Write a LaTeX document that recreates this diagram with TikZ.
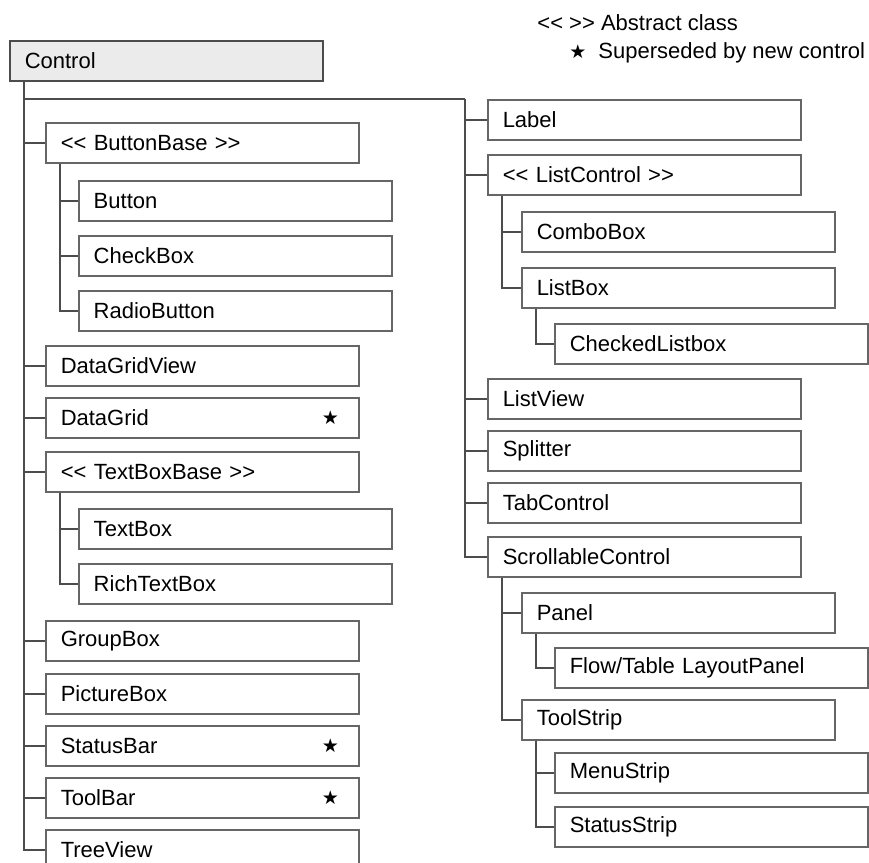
\documentclass[tikz,border=0pt]{standalone}
\usepackage{fontspec}
\setmainfont{Liberation Sans}
\newfontfamily\symfont{DejaVu Sans}
\usetikzlibrary{positioning}

% double angle brackets without the TeX guillemet ligature
\newcommand{\abscls}[1]{<\kern0pt<\ #1\ >\kern0pt>}
\newcommand{\oldmark}{{\symfont\fontsize{9.5}{9.5}\selectfont ★}}

\begin{document}
\begin{tikzpicture}[
    x=0.5pt, y=-0.5pt,
    class node/.style={
        draw=black!60, fill=white, rectangle, anchor=north west,
        minimum width=156.5pt, minimum height=20pt, text width=141.5pt,
        inner xsep=7.5pt, inner ysep=0pt, align=left,
        font=\fontsize{11}{13}\selectfont, line width=0.75pt
    },
    root node/.style={class node, fill=black!8, draw=black!70},
    superseded/.style={label={[anchor=center, xshift=-14.5pt, inner sep=0pt]east:\oldmark}},
    link/.style={draw=black!70, line width=0.8pt},
    legend/.style={anchor=base west, inner sep=0pt, font=\fontsize{11}{13}\selectfont}
]

% Marco de la imagen
\useasboundingbox (0,0) rectangle (869,863);
\clip (0,0) rectangle (869,863);

% Distancia del tronco al borde izquierdo del padre
\def\drop{15}

% ------------------------------------------------------------------------------
% 1. LEYENDA
% ------------------------------------------------------------------------------
\node[legend] (abstract) at (537,30) {<\kern0pt< >\kern0pt> Abstract class};
\node[legend] (newctrl) at (569,58) {\oldmark\hspace{6pt}Superseded by new control};

% ------------------------------------------------------------------------------
% 2. CLASES (columna izquierda)
% ------------------------------------------------------------------------------
\node[root node] (control) at (9,40) {Control};

\node[class node] (buttonbase)   at (45,122) {\abscls{ButtonBase}};
\node[class node] (button)       at (78,180) {Button};
\node[class node] (checkbox)     at (78,235) {CheckBox};
\node[class node] (radiobutton)  at (78,290) {RadioButton};
\node[class node] (datagridview) at (45,345) {DataGridView};
\node[class node, superseded] (datagrid) at (45,397) {DataGrid};
\node[class node] (textboxbase)  at (45,451) {\abscls{TextBoxBase}};
\node[class node] (textbox)      at (78,508) {TextBox};
\node[class node] (richtextbox)  at (78,563) {RichTextBox};
\node[class node] (groupbox)     at (45,620) {GroupBox};
\node[class node] (picturebox)   at (45,673) {PictureBox};
\node[class node, superseded] (statusbar) at (45,725) {StatusBar};
\node[class node, superseded] (toolbar)   at (45,777) {ToolBar};
\node[class node] (treeview)     at (45,829) {TreeView};

% ------------------------------------------------------------------------------
% 3. CLASES (columna derecha)
% ------------------------------------------------------------------------------
\node[class node] (label)          at (487,99)  {Label};
\node[class node] (listcontrol)    at (487,154) {\abscls{ListControl}};
\node[class node] (combobox)       at (521,211) {ComboBox};
\node[class node] (listbox)        at (521,267) {ListBox};
\node[class node] (checkedlistbox) at (554,323) {CheckedListbox};
\node[class node] (listview)       at (487,378) {ListView};
\node[class node] (splitter)       at (487,430) {Splitter};
\node[class node] (tabcontrol)     at (487,482) {TabControl};
\node[class node] (scrollable)     at (487,536) {ScrollableControl};
\node[class node] (panel)          at (521,592) {Panel};
\node[class node] (flowtable)      at (554,647) {Flow/Table LayoutPanel};
\node[class node] (toolstrip)      at (521,699) {ToolStrip};
\node[class node] (menustrip)      at (554,752) {MenuStrip};
\node[class node] (statusstrip)    at (554,806) {StatusStrip};

% ------------------------------------------------------------------------------
% 4. HERENCIA (troncos verticales con |-)
% ------------------------------------------------------------------------------
\foreach \p/\c in {control/buttonbase, control/datagridview, control/datagrid,
                   control/textboxbase, control/groupbox, control/picturebox,
                   control/statusbar, control/toolbar, control/treeview,
                   buttonbase/button, buttonbase/checkbox, buttonbase/radiobutton,
                   textboxbase/textbox, textboxbase/richtextbox,
                   listcontrol/combobox, listcontrol/listbox, listbox/checkedlistbox,
                   scrollable/panel, scrollable/toolstrip, panel/flowtable,
                   toolstrip/menustrip, toolstrip/statusstrip} {
    \draw[link] (\p.south west) ++(\drop,0) |- (\c.west);
}

% Rama hacia la columna derecha
\coordinate (rtrunk) at (465,99);
\draw[link] (control.south west) ++(\drop,0) |- (rtrunk);
\foreach \c in {label, listcontrol, listview, splitter, tabcontrol, scrollable} {
    \draw[link] (rtrunk) |- (\c.west);
}

\end{tikzpicture}
\end{document}
